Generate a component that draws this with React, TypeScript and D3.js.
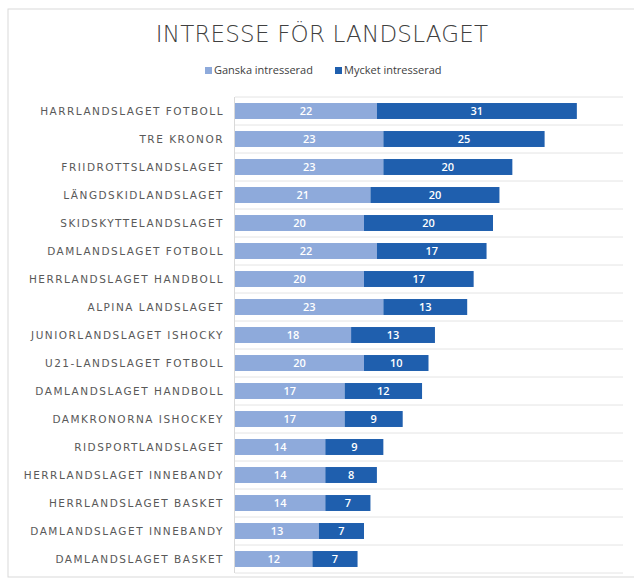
import React from "react";
import * as d3 from "d3";

const categories = [
  "HARRLANDSLAGET FOTBOLL",
  "TRE KRONOR",
  "FRIIDROTTSLANDSLAGET",
  "LÄNGDSKIDLANDSLAGET",
  "SKIDSKYTTELANDSLAGET",
  "DAMLANDSLAGET FOTBOLL",
  "HERRLANDSLAGET HANDBOLL",
  "ALPINA LANDSLAGET",
  "JUNIORLANDSLAGET ISHOCKY",
  "U21-LANDSLAGET FOTBOLL",
  "DAMLANDSLAGET HANDBOLL",
  "DAMKRONORNA ISHOCKEY",
  "RIDSPORTLANDSLAGET",
  "HERRLANDSLAGET INNEBANDY",
  "HERRLANDSLAGET BASKET",
  "DAMLANDSLAGET INNEBANDY",
  "DAMLANDSLAGET BASKET",
];
const ganska = [22, 23, 23, 21, 20, 22, 20, 23, 18, 20, 17, 17, 14, 14, 14, 13, 12];
const mycket = [31, 25, 20, 20, 20, 17, 17, 13, 13, 10, 12, 9, 9, 8, 7, 7, 7];
const seriesNames = ["Ganska intresserad", "Mycket intresserad"];
const colors = ["#8eaadb", "#1f5fae"];

export default function App() {
  const width = 634;
  const height = 581;
  const x = d3.scaleLinear().domain([0, 60]).range([235, 622]);
  const y = d3
    .scaleBand<string>()
    .domain(categories)
    .range([97, 573])
    .paddingInner(0.43)
    .paddingOuter(0.215);
  const step = y.step();
  const bounds = d3.range(categories.length + 1).map((i) => 97 + i * step);

  const labelFont = "'DejaVu Sans', sans-serif";
  const numFont = "'Open Sans', 'Liberation Sans', sans-serif";

  return (
    <svg
      width={width}
      height={height}
      style={{ position: "absolute", left: 0, top: 0, background: "#fff" }}
    >
      {/* frame */}
      <rect x={8} y={9} width={640} height={568} fill="#fff" stroke="#d9d9d9" strokeWidth={1} />

      <text
        x={322}
        y={42}
        textAnchor="middle"
        fontFamily={labelFont}
        fontSize={23}
        fontWeight={300}
        letterSpacing={0.2}
        fill="#404040"
      >
        INTRESSE FÖR LANDSLAGET
      </text>

      {/* legend */}
      <g fontFamily={numFont} fontSize={11} fill="#404040">
        <rect x={205} y={67} width={7} height={7} fill={colors[0]} />
        <text x={214} y={74}>{seriesNames[0]}</text>
        <rect x={335} y={67} width={7} height={7} fill={colors[1]} />
        <text x={344} y={74}>{seriesNames[1]}</text>
      </g>

      {/* gridlines */}
      {bounds.map((b, i) => (
        <line key={i} x1={x(0)} x2={623} y1={b} y2={b} stroke="#e4e4e4" strokeWidth={1} />
      ))}
      <line x1={x(0) - 0.5} x2={x(0) - 0.5} y1={97} y2={573} stroke="#d9d9d9" />

      {categories.map((c, i) => {
        const yy = y(c)!;
        const bh = y.bandwidth();
        const cy = yy + bh / 2;
        return (
          <g key={c}>
            <text
              x={224}
              y={cy}
              dy="0.35em"
              textAnchor="end"
              fontFamily={labelFont}
              fontSize={10.5}
              letterSpacing={1.5}
              fill="#595959"
            >
              {c}
            </text>
            <rect x={x(0)} y={yy} width={x(ganska[i]) - x(0)} height={bh} fill={colors[0]} />
            <rect
              x={x(ganska[i])}
              y={yy}
              width={x(ganska[i] + mycket[i]) - x(ganska[i])}
              height={bh}
              fill={colors[1]}
            />
            <text
              x={(x(0) + x(ganska[i])) / 2}
              y={cy}
              dy="0.35em"
              textAnchor="middle"
              fontFamily={numFont}
              fontSize={11}
              fontWeight={600}
              fill="#fff"
            >
              {ganska[i]}
            </text>
            <text
              x={(x(ganska[i]) + x(ganska[i] + mycket[i])) / 2}
              y={cy}
              dy="0.35em"
              textAnchor="middle"
              fontFamily={numFont}
              fontSize={11}
              fontWeight={600}
              fill="#fff"
            >
              {mycket[i]}
            </text>
          </g>
        );
      })}
    </svg>
  );
}
